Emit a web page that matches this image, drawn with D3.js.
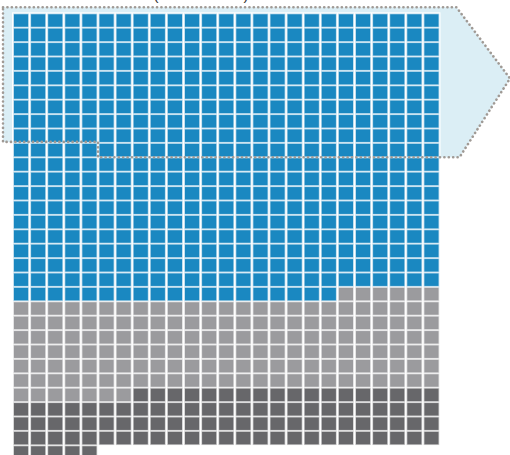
<!DOCTYPE html>
<html>
<head>
<meta charset="utf-8">
<script src="https://cdn.jsdelivr.net/npm/d3@7"></script>
<style>
  body { margin: 0; background: #fff; }
  svg { display: block; }
</style>
</head>
<body>
<script>
// waffle data: one square per unit, filled row by row
var categories = ["Group A", "Group B", "Group C"];
var counts = [494, 163, 98];
var colors = ["#1a88c1", "#9b9b9e", "#67676a"];
var columns = 25;
var highlightCount = 245; // squares inside the arrow callout
var caption = "(in thousands)";

var width = 510, height = 455;

var svg = d3.select("body").append("svg")
  .attr("width", width)
  .attr("height", height);

// expand counts into cells
var cells = [];
counts.forEach(function (n, ci) {
  for (var i = 0; i < n; i++) cells.push({ cat: ci });
});
cells.forEach(function (d, i) {
  d.col = i % columns;
  d.row = Math.floor(i / columns);
});
var rows = Math.ceil(cells.length / columns);

var xScale = d3.scaleBand()
  .domain(d3.range(columns))
  .range([14, 438.5])
  .paddingInner(3 / 17);

var yScale = d3.scaleBand()
  .domain(d3.range(rows))
  .range([14.3, 14.3 + rows * 14.4 - 2])
  .paddingInner(2 / 14.4);

var color = d3.scaleOrdinal().domain(d3.range(categories.length)).range(colors);

// arrow callout around the highlighted squares
var fullRows = Math.floor(highlightCount / columns);
var rest = highlightCount % columns;
var arrowLeft = xScale(0) - 11;
var arrowTop = yScale(0) - 7;
var gridRight = xScale(columns - 1) + xScale.bandwidth();
var bodyRight = gridRight + 18;
var stepX = xScale(columns - rest) - 1.5;
var bottomLeft = yScale(fullRows) - 2;
var bottomRight = yScale(fullRows) + yScale.bandwidth() + 1;
var tipY = (arrowTop + (bottomLeft + bottomRight) / 2) / 2;

var arrowPts = [
  [arrowLeft, arrowTop],
  [bodyRight, arrowTop],
  [width, tipY],
  [bodyRight + 3, bottomRight],
  [stepX, bottomRight],
  [stepX, bottomLeft],
  [arrowLeft, bottomLeft]
];
var line = d3.line();

svg.append("path")
  .attr("d", line(arrowPts) + "Z")
  .attr("fill", "#dbeef5")
  .attr("stroke", "none");

// white backing behind the grid
svg.append("rect")
  .attr("x", xScale(0) - 2)
  .attr("y", yScale(0) - 2)
  .attr("width", gridRight - xScale(0) + 4)
  .attr("height", height)
  .attr("fill", "#fff");

svg.append("g")
  .selectAll("rect")
  .data(cells)
  .enter()
  .append("rect")
  .attr("x", function (d) { return xScale(d.col); })
  .attr("y", function (d) { return yScale(d.row); })
  .attr("width", xScale.bandwidth())
  .attr("height", yScale.bandwidth())
  .attr("fill", function (d) { return color(d.cat); })
  .attr("stroke", function (d) { return color(d.cat); })
  .attr("stroke-opacity", 0.35)
  .attr("stroke-width", 1.5);

// dotted outline on top
svg.append("path")
  .attr("d", line(arrowPts) + "Z")
  .attr("fill", "none")
  .attr("stroke", "#a09a95")
  .attr("stroke-width", 2.6)
  .attr("stroke-linecap", "round")
  .attr("stroke-dasharray", "0.1 4.3");

// caption, mostly above the visible area
svg.append("text")
  .attr("x", 201)
  .attr("y", -0.5)
  .attr("text-anchor", "middle")
  .style("font-family", "Liberation Sans, Arial, sans-serif")
  .style("font-size", "15px")
  .attr("fill", "#333")
  .text(caption);
</script>
</body>
</html>
